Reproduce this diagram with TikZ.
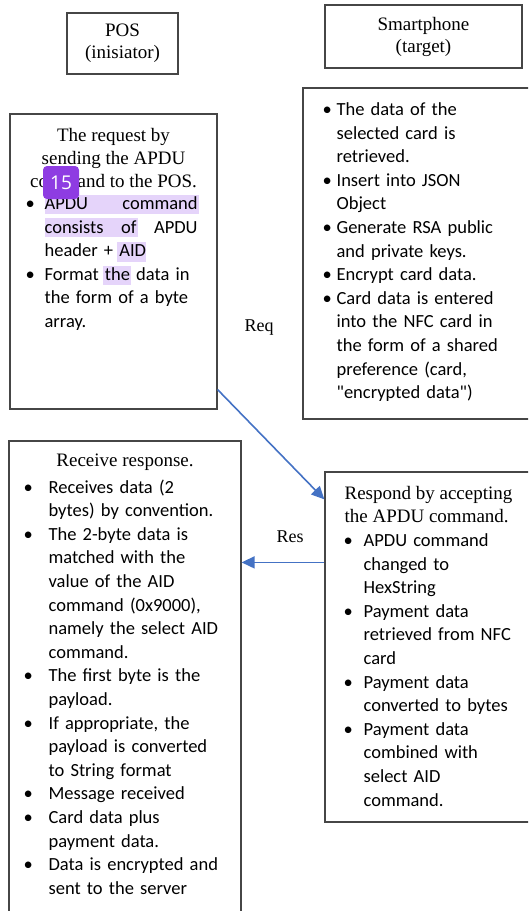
\documentclass[tikz,border=0pt]{standalone}
\usepackage{fontspec}
\setmainfont{Liberation Serif}
\newfontfamily\bodyfont{Carlito}
\newfontfamily\badgefont{Open Sans}
\usetikzlibrary{positioning,arrows.meta}

\definecolor{edgegray}{RGB}{70,70,70}
\definecolor{flowblue}{RGB}{68,114,196}
\definecolor{hilite}{RGB}{229,212,250}
\definecolor{badgepurple}{RGB}{142,60,226}

\newlength{\bulw}
\newcommand{\bul}{\makebox[\bulw][l]{\textbullet}}
\newcommand{\ind}{\hspace*{\bulw}}

\begin{document}
\begin{tikzpicture}[x=1pt,y=-1pt,
		box/.style={draw=edgegray,line width=1.2pt,inner sep=0pt},
		hdr/.style={box,font=\fontsize{19}{22}\selectfont,align=center},
		ttl/.style={inner sep=0pt,font=\fontsize{19}{23}\selectfont},
		pts/.style={inner sep=0pt,anchor=north west,align=left,
			font=\bodyfont\fontsize{18.5}{23.6}\selectfont,
			execute at begin node={\setlength{\bulw}{#1}}},
		lbl/.style={inner sep=0pt,font=\fontsize{18}{20}\selectfont},
		link/.style={draw=flowblue,line width=1.6pt,-{Triangle[length=13pt,width=12pt]}}]
	\clip (0,0) rectangle (528,911);
	% Headers
	\node[hdr,minimum width=111pt,minimum height=61pt] (pos) at (122.5,43.5) {POS\\(inisiator)};
	\node[hdr,minimum width=197pt,minimum height=63pt] (phone) at (423.5,36.5) {Smartphone\\(target)};
	% Boxes
	\node[box,minimum width=207pt,minimum height=295pt] (reqbox) at (113.5,261.5) {};
	\node[box,minimum width=242pt,minimum height=331pt] (databox) at (424,253.5) {};
	\node[box,minimum width=232pt,minimum height=499pt] (resbox) at (125,690.5) {};
	\node[box,minimum width=220pt,minimum height=350pt] (accbox) at (435,647) {};
	% Reader highlights
	\fill[hilite] (45,195) rectangle (199,214);
	\fill[hilite] (45,218) rectangle (138,237);
	\fill[hilite] (117,242) rectangle (146,262);
	\fill[hilite] (103,266) rectangle (131,285);
	% Texts of the POS side
	\node[ttl,align=center,below=15pt of reqbox.north] (reqttl)
		{The request by\\sending the APDU\\command to the POS.};
	\node[pts=19pt,text width=172pt,below right=83pt and 16pt of reqbox.north west] (reqpts)
		{\bul APDU\hfill command\\
		\ind consists\hfill of\hfill APDU\\
		\ind header + AID\\
		\bul Format the data in\\
		\ind the form of a byte\\
		\ind array.};
	\node[ttl,align=center,below=13pt of resbox.north] (resttl) {Receive response.};
	\node[pts=25pt,text width=220pt,below right=39pt and 15pt of resbox.north west] (respts)
		{\bul Receives data (2\\
		\ind bytes) by convention.\\
		\bul The 2-byte data is\\
		\ind matched with the\\
		\ind value of the AID\\
		\ind command (0x9000),\\
		\ind namely the select AID\\
		\ind command.\\
		\bul The first byte is the\\
		\ind payload.\\
		\bul If appropriate, the\\
		\ind payload is converted\\
		\ind to String format\\
		\bul Message received\\
		\bul Card data plus\\
		\ind payment data.\\
		\bul Data is encrypted and\\
		\ind sent to the server};
	% Texts of the smartphone side
	\node[pts=14pt,text width=215pt,below right=15pt and 20pt of databox.north west] (datapts)
		{\bul The data of the\\
		\ind selected card is\\
		\ind retrieved.\\
		\bul Insert into JSON\\
		\ind Object\\
		\bul Generate RSA public\\
		\ind and private keys.\\
		\bul Encrypt card data.\\
		\bul Card data is entered\\
		\ind into the NFC card in\\
		\ind the form of a shared\\
		\ind preference (card,\\
		\ind "encrypted data")};
	\node[ttl,align=left,anchor=north west,below right=15pt and 20pt of accbox.north west] (accttl)
		{Respond by accepting\\the APDU command.};
	\node[pts=20pt,text width=195pt,below right=62pt and 19pt of accbox.north west] (accpts)
		{\bul APDU command\\
		\ind changed to\\
		\ind HexString\\
		\bul Payment data\\
		\ind retrieved from NFC\\
		\ind card\\
		\bul Payment data\\
		\ind converted to bytes\\
		\bul Payment data\\
		\ind combined with\\
		\ind select AID\\
		\ind command.};
	% Request and response
	\draw[link] ([yshift=20pt]reqbox.south east) -- ([yshift=-28pt]accbox.north west);
	\coordinate (resout) at ([yshift=-91pt]accbox.north west);
	\draw[link] (resout) -- (resout -| resbox.east);
	\node[lbl] (req) at (259,328) {Req};
	\node[lbl] (res) at (290,537) {Res};
	% Reader badge
	\node[fill=badgepurple,rounded corners=4pt,minimum width=36pt,minimum height=33pt,
		inner sep=0pt,text=white,font=\badgefont\fontsize{19}{20}\selectfont] (badge) at (61,182.5) {15};
\end{tikzpicture}
\end{document}
